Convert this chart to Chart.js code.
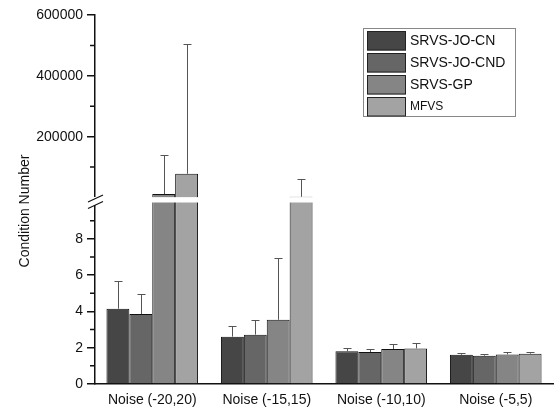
<!DOCTYPE html>
<html>
<head>
<meta charset="utf-8">
<script src="https://cdn.jsdelivr.net/npm/chart.js@4.4.0/dist/chart.umd.min.js"></script>
<style>
    body { margin: 0; background: #fff; }
</style>
</head>
<body>
<canvas id="chart" width="556" height="410"></canvas>
<script>
const categories = ['Noise (-20,20)', 'Noise (-15,15)', 'Noise (-10,10)', 'Noise (-5,5)'];
const seriesNames = ['SRVS-JO-CN', 'SRVS-JO-CND', 'SRVS-GP', 'MFVS'];
const seriesColors = ['#464646', '#666666', '#858585', '#a3a3a3'];

// mean values
const srvsJoCn = [4.15, 2.61, 1.80, 1.61];
const srvsJoCnd = [3.86, 2.72, 1.76, 1.56];
const srvsGp = [11200, 3.54, 1.93, 1.63];
const mfvs = [77900, 2500, 1.96, 1.67];

// upper error (std)
const srvsJoCnErr = [1.54, 0.58, 0.16, 0.11];
const srvsJoCndErr = [1.10, 0.78, 0.17, 0.11];
const srvsGpErr = [129200, 3.40, 0.25, 0.11];
const mfvsErr = [426500, 59000, 0.28, 0.11];

// tick labels of the two axis segments
const lowerTicks = [0, 2, 4, 6, 8];
const lowerMinor = [1, 3, 5, 7, 9];
const upperTicks = [200000, 400000, 600000];
const upperMinor = [100000, 300000, 500000];

const values = [srvsJoCn, srvsJoCnd, srvsGp, mfvs];
const errors = [srvsJoCnErr, srvsJoCndErr, srvsGpErr, mfvsErr];

const lowerMax = 10.14;
const upperMin = -8220;
const fontFamily = "'Liberation Sans', Arial, sans-serif";

Chart.defaults.font.family = fontFamily;
Chart.defaults.font.size = 14;
Chart.defaults.color = '#111';

const datasets = [];
values.forEach((vals, i) => {
    datasets.push({
        label: seriesNames[i],
        data: vals.map(v => Math.min(v, lowerMax)),
        yAxisID: 'y',
        stack: 's' + i,
        backgroundColor: seriesColors[i],
        borderColor: '#111',
        borderWidth: 1,
    });
    datasets.push({
        label: seriesNames[i] + ' (upper)',
        data: vals.map(v => v > lowerMax ? v : null),
        yAxisID: 'y2',
        stack: 's' + i,
        backgroundColor: seriesColors[i],
        borderColor: '#111',
        borderWidth: 1,
    });
});

const brokenAxis = {
    id: 'brokenAxis',
    afterDatasetsDraw(chart) {
        const ctx = chart.ctx;
        const area = chart.chartArea;
        const low = chart.scales.y;
        const up = chart.scales.y2;
        const bandTop = up.getPixelForValue(0);
        const bandBottom = low.getPixelForValue(lowerMax) + 2.5;

        ctx.save();
        ctx.fillStyle = '#fff';
        ctx.fillRect(area.left + 2, bandTop, area.right - area.left, bandBottom - bandTop);

        // error bars
        ctx.strokeStyle = '#555';
        ctx.lineWidth = 1;
        values.forEach((vals, i) => {
            vals.forEach((v, j) => {
                const isUp = v > lowerMax;
                const meta = chart.getDatasetMeta(i * 2 + (isUp ? 1 : 0));
                const scale = isUp ? up : low;
                const bar = meta.data[j];
                const x = Math.round(bar.x) + 0.5;
                const y0 = scale.getPixelForValue(v);
                const y1 = Math.round(scale.getPixelForValue(v + errors[i][j])) + 0.5;
                ctx.beginPath();
                ctx.moveTo(x, y0);
                ctx.lineTo(x, y1);
                ctx.moveTo(x - 4, y1);
                ctx.lineTo(x + 4, y1);
                ctx.stroke();
            });
        });
        ctx.restore();
    },
    afterDraw(chart) {
        const ctx = chart.ctx;
        const area = chart.chartArea;
        const low = chart.scales.y;
        const up = chart.scales.y2;

        ctx.save();
        // minor ticks
        ctx.strokeStyle = '#111';
        ctx.lineWidth = 1.5;
        ctx.beginPath();
        lowerMinor.forEach(v => {
            const y = low.getPixelForValue(v);
            ctx.moveTo(area.left - 5, y);
            ctx.lineTo(area.left, y);
        });
        upperMinor.forEach(v => {
            const y = up.getPixelForValue(v);
            ctx.moveTo(area.left - 5, y);
            ctx.lineTo(area.left, y);
        });
        ctx.stroke();

        // axis break
        const yb = low.top;
        ctx.fillStyle = '#fff';
        ctx.fillRect(area.left - 3, yb - 3, 6, 8);
        ctx.lineWidth = 1.2;
        ctx.beginPath();
        ctx.moveTo(area.left - 7, yb + 2);
        ctx.lineTo(area.left + 8, yb - 5);
        ctx.moveTo(area.left - 7, yb + 8.5);
        ctx.lineTo(area.left + 8, yb + 1.5);
        ctx.stroke();

        // axis title
        ctx.fillStyle = '#111';
        ctx.font = '14px ' + fontFamily;
        ctx.textAlign = 'center';
        ctx.textBaseline = 'middle';
        ctx.translate(25, 211);
        ctx.rotate(-Math.PI / 2);
        ctx.fillText('Condition Number', 0, 0);
        ctx.restore();

        // legend
        ctx.save();
        ctx.fillStyle = '#fff';
        ctx.fillRect(363, 28.5, 152, 88);
        ctx.strokeStyle = '#888';
        ctx.lineWidth = 1;
        ctx.strokeRect(363.5, 28.5, 152, 88);
        ctx.textBaseline = 'middle';
        ctx.textAlign = 'left';
        seriesNames.forEach((name, i) => {
            const y0 = 31 + i * 22;
            ctx.fillStyle = seriesColors[i];
            ctx.fillRect(367, y0, 39, 19.5);
            ctx.strokeStyle = '#222';
            ctx.strokeRect(367.5, y0 + 0.5, 38, 18.5);
            ctx.fillStyle = '#111';
            ctx.font = (i === 3 ? '12px ' : '14px ') + fontFamily;
            ctx.fillText(name, 410, y0 + 10);
        });
        ctx.restore();
    }
};

new Chart(document.getElementById('chart'), {
    type: 'bar',
    data: {
        labels: categories,
        datasets: datasets,
    },
    options: {
        responsive: false,
        animation: false,
        categoryPercentage: 0.8,
        barPercentage: 1.0,
        layout: {
            padding: { left: 8, top: 15, right: 3, bottom: 0 }
        },
        plugins: {
            legend: { display: false },
            tooltip: { enabled: false },
        },
        scales: {
            x: {
                grid: { display: false, drawTicks: false },
                border: { color: '#111', width: 1.5 },
                ticks: { padding: 8, color: '#111' },
                afterFit: (s) => { s.height = 26; },
            },
            y: {
                stack: 'broken',
                stackWeight: 184,
                min: 0,
                max: lowerMax,
                stacked: false,
                afterBuildTicks: (s) => { s.ticks = lowerTicks.map(v => ({ value: v })); },
                afterFit: (s) => { s.width = 87; },
                grid: { drawOnChartArea: false, tickLength: 8, color: '#111', lineWidth: 1.5 },
                border: { color: '#111', width: 1.5 },
                ticks: { padding: 4, color: '#111', callback: (v) => String(v) },
            },
            y2: {
                stack: 'broken',
                stackWeight: 185,
                min: upperMin,
                max: 600000,
                stacked: false,
                afterBuildTicks: (s) => { s.ticks = upperTicks.map(v => ({ value: v })); },
                afterFit: (s) => { s.width = 87; },
                grid: { drawOnChartArea: false, tickLength: 8, color: '#111', lineWidth: 1.5 },
                border: { color: '#111', width: 1.5 },
                ticks: { padding: 4, color: '#111', callback: (v) => String(v) },
            },
        },
    },
    plugins: [brokenAxis],
});
</script>
</body>
</html>
